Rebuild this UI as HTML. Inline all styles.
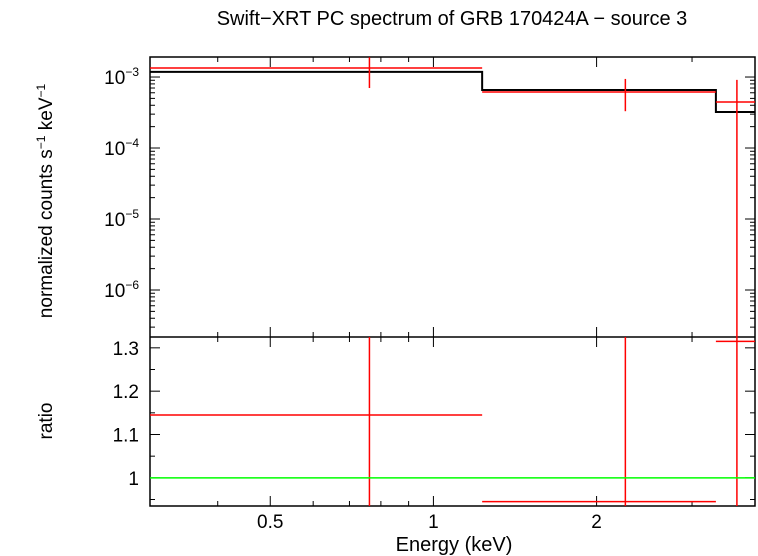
<!DOCTYPE html>
<html><head><meta charset="utf-8"><style>
body{margin:0;background:#fff}
svg{display:block;font-family:"Liberation Sans",sans-serif}
</style></head><body>
<svg id="chart" width="758" height="556" viewBox="0 0 758 556" xmlns="http://www.w3.org/2000/svg">
<text x="452" y="25" font-size="20" text-anchor="middle">Swift−XRT PC spectrum of GRB 170424A − source 3</text>
<text transform="translate(52,201) rotate(-90)" font-size="19" text-anchor="middle">normalized counts s<tspan font-size="12" dy="-7">−1</tspan><tspan dy="7"> keV</tspan><tspan font-size="12" dy="-7">−1</tspan></text>
<text transform="translate(52,421) rotate(-90)" font-size="19" text-anchor="middle">ratio</text>
<text x="454" y="551" font-size="20" text-anchor="middle">Energy (keV)</text>
<g id="axes"></g>
<g id="marks"></g>
</svg>
<script>
const binLo=[0.3,1.23,3.32];
const binHi=[1.23,3.32,3.92];
const binCenter=[0.762,2.26,3.63];
const dataVal=[1.34e-3,6.14e-4,4.44e-4];
const errLo=[7.0e-4,3.3e-4,1e-7];
const errHi=[1.9e-3,9.4e-4,9.1e-4];
const modelVal=[1.18e-3,6.56e-4,3.21e-4];
const ratioVal=[1.145,0.945,1.315];
const ratioLo=[0.9,0.9,0.9];
const ratioHi=[1.4,1.4,1.4];
const xTickLabels=[0.5,1,2];
const topTickExp=[-3,-4,-5,-6];
const ratioTicks=[1,1.1,1.2,1.3];

const X0=150,X1=755,T0=57,T1=337,B1=506;
const xMin=0.3,xMax=3.92,yTopMax=10**-2.718,yTopMin=10**-6.662,rMin=0.935,rMax=1.325;
const xs=e=>X0+(Math.log10(e)-Math.log10(xMin))/(Math.log10(xMax)-Math.log10(xMin))*(X1-X0);
const ys=v=>T0+(Math.log10(yTopMax)-Math.log10(v))/(Math.log10(yTopMax)-Math.log10(yTopMin))*(T1-T0);
const yr=v=>T1+(rMax-v)/(rMax-rMin)*(B1-T1);
const NS="http://www.w3.org/2000/svg";
const axes=document.getElementById('axes'),marks=document.getElementById('marks');
function el(p,t,a){const e=document.createElementNS(NS,t);for(const k in a)e.setAttribute(k,a[k]);p.appendChild(e);return e;}
const cl=(v,a,b)=>Math.max(a,Math.min(b,v));
function line(p,x1,y1,x2,y2,c,w){return el(p,'line',{x1,y1,x2,y2,stroke:c,'stroke-width':w||1.5});}
let r=el(axes,'rect',{x:X0,y:T0,width:X1-X0,height:B1-T0,fill:'none',stroke:'#000','stroke-width':1.5});

let sep=line(axes,X0,T1,X1,T1,'#000');

const minors=[0.3,0.4,0.5,0.6,0.7,0.8,0.9,1,2,3];
minors.forEach(e=>{const x=xs(e);const L=xTickLabels.includes(e)?10:5;
 [[T0,T0+L],[T1,T1-L],[T1,T1+L],[B1,B1-L]].forEach(([a,b])=>{const t=line(axes,x,a,x,b,'#000',1);
 });});
xTickLabels.forEach(e=>{const t=el(axes,'text',{x:xs(e),y:528,'font-size':19,'text-anchor':'middle'});t.textContent=e;
 });
for(let d=-7;d<=-2;d++)for(let m=1;m<10;m++){const v=m*10**d;if(v<yTopMin||v>yTopMax)continue;const y=ys(v);const L=m==1?10:5;
 const a=line(axes,X0,y,X0+L,y,'#000',1);
 const b=line(axes,X1,y,X1-L,y,'#000',1);}
topTickExp.forEach(p=>{const t=el(axes,'text',{x:139,y:ys(10**p)+7,'font-size':19,'text-anchor':'end'});
 t.innerHTML='10<tspan font-size="12" dy="-8">'+(p<0?'−':'')+Math.abs(p)+'</tspan>';
 });
for(let v=0.95;v<=1.3001;v+=0.05){const y=yr(v);const major=Math.abs(v*10-Math.round(v*10))<1e-6;const L=major?10:5;
 const a=line(axes,X0,y,X0+L,y,'#000',1);
 const b=line(axes,X1,y,X1-L,y,'#000',1);}
ratioTicks.forEach(v=>{const t=el(axes,'text',{x:139,y:yr(v)+7,'font-size':19,'text-anchor':'end'});t.textContent=v;
 });
let d='';binLo.forEach((lo,i)=>{const y=ys(modelVal[i]);d+=(i?'L':'M')+xs(lo)+','+y+'L'+xs(binHi[i])+','+y;});
const mp=el(marks,'path',{d,fill:'none',stroke:'#000','stroke-width':2});

binLo.forEach((lo,i)=>{
 const h=line(marks,xs(lo),ys(dataVal[i]),xs(binHi[i]),ys(dataVal[i]),'#f00');
 
 const v=line(marks,xs(binCenter[i]),cl(ys(errHi[i]),T0,T1),xs(binCenter[i]),cl(ys(errLo[i]),T0,T1),'#f00');
 
 const yy=cl(yr(ratioVal[i]),T1,B1);
 const rh=line(marks,xs(lo),yy,xs(binHi[i]),yy,'#f00');
 
 const rv=line(marks,xs(binCenter[i]),cl(yr(ratioHi[i]),T1,B1),xs(binCenter[i]),cl(yr(ratioLo[i]),T1,B1),'#f00');
 
});
const g=line(marks,X0,yr(1),X1,yr(1),'#0f0');

</script>
</body></html>
